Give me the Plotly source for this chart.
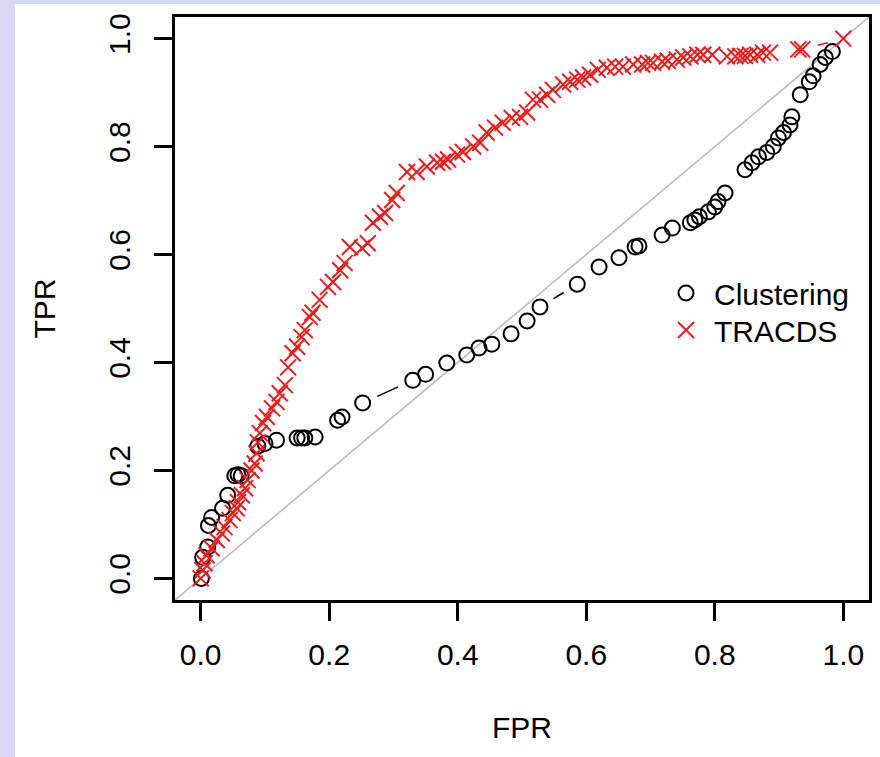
import numpy as np
import plotly.graph_objects as go

# ---------------- data ----------------
clust_fpr = [0.001, 0.003, 0.011, 0.012, 0.017, 0.034, 0.042, 0.053, 0.058, 0.063,
             0.089, 0.100, 0.118, 0.150, 0.157, 0.162, 0.178, 0.213, 0.220, 0.252,
             0.330, 0.350, 0.383, 0.414, 0.433, 0.453, 0.483, 0.508, 0.528, 0.586,
             0.620, 0.651, 0.676, 0.682, 0.718, 0.734, 0.762, 0.769, 0.776, 0.790,
             0.800, 0.805, 0.816, 0.847, 0.858, 0.868, 0.881, 0.891, 0.899, 0.907,
             0.917, 0.920, 0.933, 0.947, 0.953, 0.964, 0.972, 0.983]
clust_tpr = [0.000, 0.039, 0.058, 0.098, 0.113, 0.130, 0.154, 0.190, 0.192, 0.190,
             0.245, 0.250, 0.256, 0.260, 0.260, 0.260, 0.262, 0.293, 0.299, 0.325,
             0.367, 0.378, 0.399, 0.414, 0.427, 0.434, 0.453, 0.477, 0.503, 0.545,
             0.577, 0.594, 0.614, 0.616, 0.636, 0.649, 0.659, 0.664, 0.670, 0.679,
             0.688, 0.698, 0.714, 0.757, 0.770, 0.781, 0.789, 0.800, 0.816, 0.826,
             0.840, 0.855, 0.896, 0.920, 0.931, 0.952, 0.965, 0.976]

tracds_fpr = [0.000, 0.003, 0.006, 0.009, 0.017, 0.025, 0.033, 0.037, 0.045, 0.050,
              0.056, 0.058, 0.064, 0.069, 0.073, 0.079, 0.084, 0.087, 0.089, 0.092,
              0.097, 0.103, 0.111, 0.118, 0.123, 0.131, 0.136, 0.143, 0.150, 0.157,
              0.162, 0.170, 0.174, 0.185, 0.198, 0.206, 0.217, 0.224, 0.232, 0.251,
              0.260, 0.268, 0.279, 0.287, 0.298, 0.305, 0.321, 0.336, 0.352, 0.368,
              0.377, 0.385, 0.399, 0.408, 0.424, 0.435, 0.445, 0.458, 0.470, 0.484,
              0.497, 0.508, 0.517, 0.528, 0.539, 0.548, 0.564, 0.575, 0.586, 0.595,
              0.606, 0.618, 0.632, 0.645, 0.657, 0.673, 0.687, 0.696, 0.704, 0.718,
              0.727, 0.741, 0.751, 0.762, 0.773, 0.782, 0.796, 0.819, 0.832, 0.840,
              0.847, 0.855, 0.866, 0.875, 0.886, 0.930, 0.936, 1.000]
tracds_tpr = [0.000, 0.015, 0.028, 0.043, 0.056, 0.071, 0.083, 0.095, 0.108, 0.121,
              0.130, 0.141, 0.154, 0.167, 0.182, 0.200, 0.213, 0.232, 0.252, 0.269,
              0.288, 0.299, 0.315, 0.327, 0.343, 0.358, 0.391, 0.417, 0.429, 0.447,
              0.460, 0.484, 0.492, 0.516, 0.540, 0.549, 0.571, 0.584, 0.614, 0.612,
              0.621, 0.659, 0.670, 0.677, 0.701, 0.714, 0.753, 0.753, 0.763, 0.770,
              0.772, 0.776, 0.785, 0.790, 0.800, 0.807, 0.826, 0.835, 0.844, 0.853,
              0.855, 0.863, 0.887, 0.887, 0.896, 0.905, 0.915, 0.920, 0.924, 0.928,
              0.933, 0.942, 0.946, 0.948, 0.948, 0.952, 0.952, 0.955, 0.955, 0.957,
              0.959, 0.961, 0.965, 0.967, 0.970, 0.970, 0.970, 0.967, 0.967, 0.968,
              0.968, 0.970, 0.970, 0.974, 0.974, 0.980, 0.980, 1.000]

x_ticks = [0.0, 0.2, 0.4, 0.6, 0.8, 1.0]
x_tick_labels = ["0.0", "0.2", "0.4", "0.6", "0.8", "1.0"]
y_ticks = [0.0, 0.2, 0.4, 0.6, 0.8, 1.0]
y_tick_labels = ["0.0", "0.2", "0.4", "0.6", "0.8", "1.0"]
series_names = ["Clustering", "TRACDS"]

# ---------------- layout geometry ----------------
W, H = 880, 757
ML, MR, MT, MB = 175, 11, 17, 157
PW, PH = W - ML - MR, H - MT - MB
XR = [-0.04, 1.04]
YR = [-0.04, 1.04]
px_x = PW / (XR[1] - XR[0])
px_y = PH / (YR[1] - YR[0])

FONT = "Liberation Sans, Arial, sans-serif"
RED = "#ee1c1c"


def gapped(xs, ys, gap_px=16.0):
    """R type='b' style: connecting segments with a gap around every point."""
    gx, gy = [], []
    for i in range(len(xs) - 1):
        x1, y1, x2, y2 = xs[i], ys[i], xs[i + 1], ys[i + 1]
        dx, dy = (x2 - x1) * px_x, (y2 - y1) * px_y
        d = float(np.hypot(dx, dy))
        if d > 2 * gap_px:
            f = gap_px / d
            gx += [x1 + f * (x2 - x1), x2 - f * (x2 - x1), None]
            gy += [y1 + f * (y2 - y1), y2 - f * (y2 - y1), None]
    return gx, gy


def py(pix):
    """pixel row -> paper y"""
    return (MT + PH - pix) / PH


fig = go.Figure()

# white page panel over the lavender background
fig.add_shape(type="rect", xref="paper", yref="paper",
              x0=(15 - ML) / PW, x1=(W - ML) / PW + 0.05,
              y0=py(H) - 0.05, y1=py(4),
              fillcolor="white", line_width=0, layer="below")

# diagonal reference line
fig.add_shape(type="line", x0=XR[0], y0=YR[0], x1=XR[1], y1=YR[1],
              line=dict(color="#bdbdbd", width=1.6), layer="below")

# connecting segments
cx, cy = gapped(clust_fpr, clust_tpr)
fig.add_trace(go.Scatter(x=cx, y=cy, mode="lines", showlegend=False,
                         line=dict(color="black", width=1.6), hoverinfo="skip"))
tx, ty = gapped(tracds_fpr, tracds_tpr)
fig.add_trace(go.Scatter(x=tx, y=ty, mode="lines", showlegend=False,
                         line=dict(color=RED, width=1.6), hoverinfo="skip"))

fig.add_trace(go.Scatter(x=clust_fpr, y=clust_tpr, mode="markers", name=series_names[0],
                         legend="legend",
                         marker=dict(symbol="circle-open", size=15, color="black",
                                     line=dict(width=2, color="black"))))
fig.add_trace(go.Scatter(x=tracds_fpr, y=tracds_tpr, mode="markers", name=series_names[1],
                         legend="legend2",
                         marker=dict(symbol="x-thin-open", size=16, color=RED,
                                     line=dict(width=2, color=RED))))

axis_common = dict(showgrid=False, zeroline=False, showline=True, mirror=True,
                   linecolor="black", linewidth=2.5, ticks="outside", ticklen=18,
                   tickwidth=2.5, tickcolor="black",
                   tickfont=dict(family=FONT, size=30, color="black"),
                   title_font=dict(family=FONT, size=30, color="black"))

fig.update_xaxes(range=XR, tickvals=x_ticks, ticktext=x_tick_labels,
                 title_text="FPR", title_standoff=48, ticklabelstandoff=8,
                 **axis_common)
fig.update_yaxes(range=YR, tickvals=y_ticks, ticktext=y_tick_labels, tickangle=-90,
                 title_text="TPR", title_standoff=39, ticklabelstandoff=12,
                 **axis_common)

leg_common = dict(x=(658 - ML) / PW, xanchor="left", yanchor="top",
                  bgcolor="rgba(0,0,0,0)", font=dict(family=FONT, size=30, color="black"),
                  itemwidth=46)

fig.update_layout(
    width=W, height=H,
    margin=dict(l=ML, r=MR, t=MT, b=MB, autoexpand=False),
    paper_bgcolor="#d8d8f6", plot_bgcolor="white",
    font=dict(family=FONT, size=30, color="black"),
    legend=dict(y=py(267), **leg_common),
    legend2=dict(y=py(304), **leg_common),
    showlegend=True,
)

fig.write_html("out.html", config={"displayModeBar": False},
               post_script="document.body.style.margin='0px';")
